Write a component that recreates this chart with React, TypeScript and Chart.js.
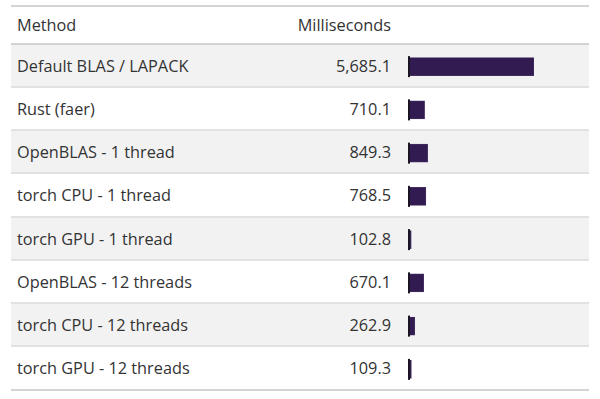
import React, { useEffect, useRef } from "react";
import { Chart, registerables } from "chart.js";

Chart.register(...registerables);

const methods: string[] = [
  "Default BLAS / LAPACK",
  "Rust (faer)",
  "OpenBLAS - 1 thread",
  "torch CPU - 1 thread",
  "torch GPU - 1 thread",
  "OpenBLAS - 12 threads",
  "torch CPU - 12 threads",
  "torch GPU - 12 threads",
];
const milliseconds: number[] = [5685.1, 710.1, 849.3, 768.5, 102.8, 670.1, 262.9, 109.3];
const headers: string[] = ["Method", "Milliseconds"];

const FONT = "'Open Sans', 'Noto Sans', sans-serif";
const TOP = 44.5;
const ROW_H = 43.25;
const BAR_LEFT = 407;
const BAR_W = 129;

const fmt = (v: number) =>
  v.toLocaleString("en-US", { minimumFractionDigits: 1, maximumFractionDigits: 1 });

const zeroLine = {
  id: "zeroLine",
  afterDatasetsDraw(chart: any) {
    const meta = chart.getDatasetMeta(0);
    const ctx = chart.ctx;
    ctx.save();
    ctx.fillStyle = "#1a1423";
    meta.data.forEach((el: any) => {
      const p = el.getProps(["base", "y"], true);
      ctx.fillRect(p.base - 1, p.y - 10.5, 2, 21);
    });
    ctx.restore();
  },
};

export default function App() {
  const ref = useRef<HTMLCanvasElement | null>(null);
  useEffect(() => {
    if (!ref.current) return;
    const chart = new Chart(ref.current, {
      type: "bar",
      data: {
        labels: methods,
        datasets: [
          {
            data: milliseconds,
            backgroundColor: "#311b50",
            borderColor: "#4a3668",
            borderWidth: 0.8,
            barThickness: 18,
          },
        ],
      },
      options: {
        indexAxis: "y",
        animation: false,
        responsive: false,
        maintainAspectRatio: false,
        layout: { padding: { left: 2, right: 2, top: 0, bottom: 0 } },
        plugins: { legend: { display: false }, tooltip: { enabled: false } },
        scales: {
          x: { display: false, min: 0, max: 5685.1 },
          y: { display: false, offset: true, grid: { display: false } },
        },
      },
      plugins: [zeroLine],
    });
    return () => chart.destroy();
  }, []);

  const textStyle = (lh: number): React.CSSProperties => ({
    position: "absolute",
    top: 1,
    lineHeight: `${lh}px`,
    whiteSpace: "nowrap",
  });

  return (
    <div
      style={{
        position: "absolute",
        left: 0,
        top: 0,
        width: 600,
        height: 399,
        background: "#ffffff",
        fontFamily: FONT,
        fontSize: 16.3,
        color: "#333333",
        overflow: "hidden",
      }}
    >
      <div
        style={{
          position: "absolute",
          left: 11,
          width: 578,
          top: 5,
          height: TOP - 5,
          borderTop: "2px solid #d4d4d4",
          borderBottom: "2px solid #d4d4d4",
          boxSizing: "border-box",
        }}
      >
        <div style={{ ...textStyle(34), left: 6 }}>{headers[0]}</div>
        <div style={{ ...textStyle(34), right: 198 }}>{headers[1]}</div>
      </div>
      {methods.map((m, i) => (
        <div
          key={m}
          style={{
            position: "absolute",
            left: 11,
            width: 578,
            top: TOP + i * ROW_H,
            height: ROW_H,
            background: i % 2 === 0 ? "#f2f2f2" : "#ffffff",
            borderBottom: i === methods.length - 1 ? "2px solid #d4d4d4" : "2px solid #e2e2e2",
            boxSizing: "border-box",
          }}
        >
          <div style={{ ...textStyle(ROW_H - 2), left: 6 }}>{m}</div>
          <div style={{ ...textStyle(ROW_H - 2), right: 198 }}>{fmt(milliseconds[i])}</div>
        </div>
      ))}
      <canvas
        ref={ref}
        width={BAR_W}
        height={8 * ROW_H}
        style={{ position: "absolute", left: BAR_LEFT, top: TOP, width: BAR_W, height: 8 * ROW_H }}
      />
    </div>
  );
}
